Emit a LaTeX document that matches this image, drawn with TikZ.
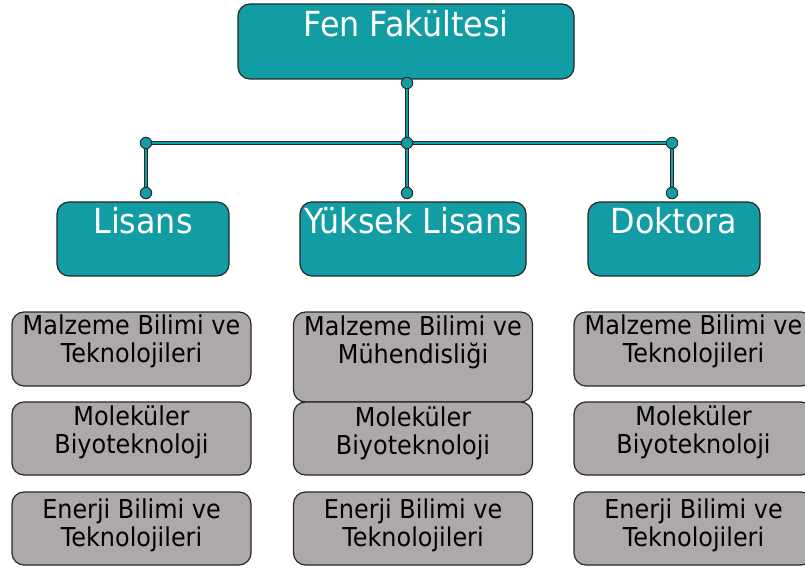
\documentclass[tikz,border=0pt]{standalone}
\usepackage{fontspec}
\setmainfont{DejaVu Sans}[FakeStretch=0.92]
\definecolor{fenteal}{RGB}{18,156,164}
\definecolor{bolumgray}{RGB}{174,169,169}
\definecolor{kenar}{RGB}{40,40,40}

\begin{document}
\begin{tikzpicture}[x=1pt, y=-1pt,
		anabox/.style={rectangle, rounded corners=12pt, draw=kenar, line width=1.2pt, fill=fenteal, inner sep=0pt},
		bolumbox/.style={rectangle, rounded corners=12pt, draw=kenar, line width=1.2pt, fill=bolumgray, inner sep=0pt},
		anayazi/.style={anchor=north, inner sep=0pt, text=white, font=\fontsize{34.5}{40}\selectfont},
		bolumyazi/.style={anchor=north, inner sep=0pt, align=center, font=\fontsize{26}{28}\selectfont},
		baglanti/.style={draw=kenar, line width=1pt, double=fenteal, double distance=2.6pt},
		nokta/.style={circle, draw=kenar, line width=0.9pt, fill=fenteal, minimum size=11.5pt, inner sep=0pt}]
			\useasboundingbox (0,0) rectangle (805,569);

			% fakulte
			\node[anabox, minimum width=336pt, minimum height=75pt] (fen) at (406,41.5) {};
			\node[anayazi] (fenT) at ([yshift=-7pt]fen.north) {Fen Fakültesi};

			% programlar
			\foreach \ad/\x/\w/\yazi in {lisans/143/172/Lisans, yuksek/413/226/Yüksek Lisans, doktora/674/172/Doktora}
				{
					\node[anabox, minimum width=\w pt, minimum height=74pt] (\ad) at (\x,239) {};
					\node[anayazi] (\ad T) at ([yshift=-6pt]\ad.north) {\yazi};
				}

			% bolumler
			\foreach \ad/\x/\y/\h/\s/\yazi in {
					a1/131.5/349/74/3/{Malzeme Bilimi ve\\Teknolojileri},
					a2/131.5/438.5/73/4/{Moleküler\\Biyoteknoloji},
					a3/131.5/528.5/73/7/{Enerji Bilimi ve\\Teknolojileri},
					b1/413/357/90/4/{Malzeme Bilimi ve\\Mühendisliği},
					b2/413/438.5/73/5/{Moleküler\\Biyoteknoloji},
					b3/413/528.5/73/7/{Enerji Bilimi ve\\Teknolojileri},
					c1/693.5/349/74/3/{Malzeme Bilimi ve\\Teknolojileri},
					c2/693.5/438.5/73/4/{Moleküler\\Biyoteknoloji},
					c3/693.5/528.5/73/7/{Enerji Bilimi ve\\Teknolojileri}}
				{
					\node[bolumbox, minimum width=239pt, minimum height=\h pt] (\ad) at (\x,\y) {};
					\node[bolumyazi] (\ad T) at ([yshift=-\s pt]\ad.north) {\yazi};
				}

			% baglantilar
			\coordinate (ust) at (407,83);
			\coordinate (orta) at (407,143);
			\coordinate (sol) at (146,143);
			\coordinate (sag) at (672,143);
			\coordinate (lisA) at (146,193);
			\coordinate (yukA) at (407,193);
			\coordinate (dokA) at (672,193);

			\draw[baglanti] (ust) -- (orta) -- (yukA);
			\draw[baglanti] (sol) -- (sag);
			\draw[baglanti] (sol) -- (lisA);
			\draw[baglanti] (sag) -- (dokA);
			\foreach \n in {ust,orta,sol,sag,lisA,yukA,dokA}
				{
					\node[nokta] (n\n) at (\n) {};
				}
		\end{tikzpicture}
\end{document}
